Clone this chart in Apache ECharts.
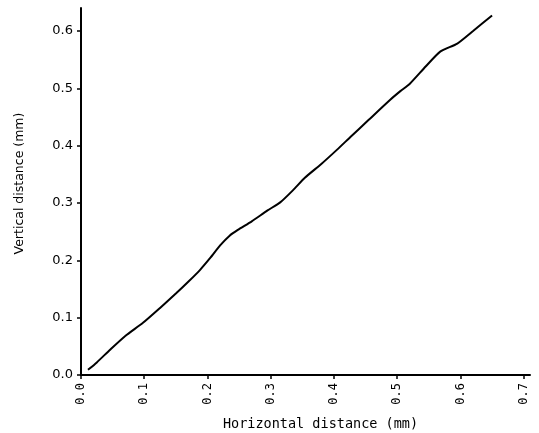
<!DOCTYPE html>
<html>
<head>
<meta charset="utf-8">
<script src="https://cdn.jsdelivr.net/npm/echarts@6/dist/echarts.min.js"></script>
<style>
  html, body { margin: 0; padding: 0; background: #fff; }
  #main { width: 539px; height: 433px; }
</style>
</head>
<body>
<div id="main"></div>
<script>
// horizontal / vertical distance (mm)
var xs = [0.011, 0.025, 0.046, 0.070, 0.098, 0.125, 0.150, 0.170, 0.188, 0.205, 0.220, 0.235, 0.248,
          0.270, 0.295, 0.315, 0.335, 0.354, 0.380, 0.405, 0.426, 0.455, 0.489, 0.505, 0.520,
          0.545, 0.568, 0.595, 0.620, 0.650];
var ys = [0.009, 0.022, 0.044, 0.068, 0.091, 0.117, 0.142, 0.163, 0.183, 0.205, 0.226, 0.243, 0.253,
          0.268, 0.287, 0.301, 0.322, 0.344, 0.368, 0.393, 0.415, 0.445, 0.480, 0.495, 0.508,
          0.538, 0.564, 0.578, 0.600, 0.627];

var xTicks = [0, 0.1, 0.2, 0.3, 0.4, 0.5, 0.6, 0.7];

var data = xs.map(function (x, i) { return [x, ys[i]]; });

var chart = echarts.init(document.getElementById('main'));
chart.setOption({
    animation: false,
    grid: { left: 81, top: 8, right: 9, bottom: 58, outerBoundsMode: 'none' },
    xAxis: {
        type: 'value',
        min: 0,
        max: 0.71,
        interval: 0.1,
        name: 'Horizontal distance (mm)',
        nameLocation: 'middle',
        nameGap: 42,
        nameTextStyle: { fontFamily: 'DejaVu Sans Mono', fontSize: 13.5, color: '#000', padding: [0, 0, 0, 30] },
        axisLine: { lineStyle: { color: '#000', width: 2 } },
        axisTick: { show: true, length: 4, lineStyle: { color: '#000', width: 1.5 } },
        axisLabel: {
            rotate: 90,
            showMaxLabel: false,
            fontFamily: 'DejaVu Sans Mono',
            fontSize: 12,
            color: '#000',
            margin: 8,
            formatter: function (v) {
                return xTicks.indexOf(Math.round(v * 10) / 10) >= 0 ? v.toFixed(1) : '';
            }
        },
        splitLine: { show: false }
    },
    yAxis: {
        type: 'value',
        min: 0,
        max: 0.64,
        interval: 0.1,
        name: 'Vertical distance (mm)',
        nameLocation: 'middle',
        nameGap: 55,
        nameTextStyle: { fontFamily: 'DejaVu Sans', fontSize: 12.5, color: '#000', padding: [0, 0, 0, 16] },
        axisLine: { show: true, lineStyle: { color: '#000', width: 2 } },
        axisTick: { show: true, length: 4, lineStyle: { color: '#000', width: 1.5 } },
        axisLabel: {
            showMaxLabel: false,
            fontFamily: 'DejaVu Sans',
            fontSize: 13,
            color: '#000',
            margin: 8,
            formatter: function (v) { return v.toFixed(1); }
        },
        splitLine: { show: false }
    },
    series: [{
        type: 'line',
        data: data,
        showSymbol: false,
        smooth: 0.2,
        lineStyle: { color: '#000', width: 2 }
    }]
});
</script>
</body>
</html>
